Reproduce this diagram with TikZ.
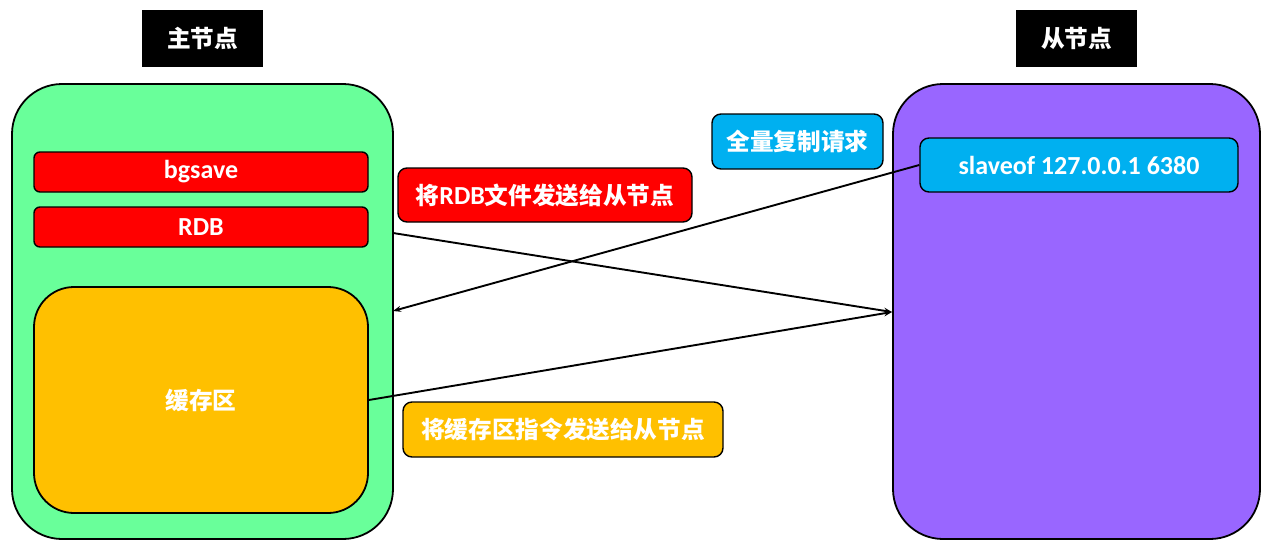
\documentclass[tikz,border=0pt]{standalone}
\usepackage{fontspec}
\setmainfont{Carlito}[BoldFont={Carlito Bold}]
\newfontfamily\cjk{Noto Sans CJK SC}[Scale=0.91]
\usetikzlibrary{arrows.meta}
\definecolor{gbox}{HTML}{69FF9A}
\definecolor{pbox}{HTML}{9966FF}
\definecolor{rbox}{HTML}{FF0000}
\definecolor{obox}{HTML}{FFC000}
\definecolor{cbox}{HTML}{00B0F0}
\tikzset{
  big/.style={draw=black, line width=1.8pt, rounded corners=50pt, inner sep=0pt},
  bar/.style={draw=black, line width=1.4pt, rounded corners=6pt, fill=rbox, text=white, inner sep=0pt, font=\fontsize{26}{28}\selectfont\bfseries},
  lbl/.style={draw=black, line width=1.4pt, rounded corners=9pt, text=white, inner sep=0pt, font=\fontsize{26}{28}\selectfont\bfseries},
  ttl/.style={fill=black, text=white, inner sep=0pt, minimum width=121pt, minimum height=57pt, font=\fontsize{26}{28}\selectfont\bfseries},
  arr/.style={line width=1.9pt, -{Stealth[length=8pt,width=6pt]}},
}
\begin{document}
\begin{tikzpicture}[x=1pt,y=1pt]
\useasboundingbox (0,0) rectangle (1272,-544);
% titles
\node[ttl] (t1) at (202.5,-38.5) {\cjk 主节点};
\node[ttl] (t2) at (1076.5,-38.5) {\cjk 从节点};
% master
\node[big, fill=gbox, minimum width=381pt, minimum height=455pt] (m) at (202.5,-311.5) {};
\node[bar, minimum width=334pt, minimum height=40pt] (bg) at (201,-172) {bgsave};
\node[bar, minimum width=334pt, minimum height=40pt] (rdb) at (201,-227) {RDB};
\node[big, fill=obox, rounded corners=40pt, minimum width=334pt, minimum height=226pt, text=white, font=\fontsize{26}{28}\selectfont\bfseries] (buf) at (201,-400) {\cjk 缓存区};
% slave
\node[big, fill=pbox, minimum width=367pt, minimum height=455pt] (s) at (1076.5,-311.5) {};
\node[lbl, fill=cbox, minimum width=318pt, minimum height=54pt] (sl) at (1079,-165) {slaveof 127.0.0.1 6380};
% labels
\node[lbl, fill=cbox, minimum width=171pt, minimum height=55pt] (req) at (797.5,-141.5) {\cjk 全量复制请求};
\node[lbl, fill=rbox, minimum width=294pt, minimum height=54pt] (l1) at (545,-195) {{\cjk 将}RDB{\cjk 文件发送给从节点}};
\node[lbl, fill=obox, minimum width=320pt, minimum height=55pt] (l2) at (563,-429.5) {\cjk 将缓存区指令发送给从节点};
% connectors
\coordinate (g1) at (393,-311);
\coordinate (g2) at (393,-233);
\coordinate (p1) at (892,-312);
\draw[arr] (sl.west) -- (g1);
\draw[arr] (g2) -- (p1);
\draw[arr] (buf.east) -- (p1);
\end{tikzpicture}
\end{document}
